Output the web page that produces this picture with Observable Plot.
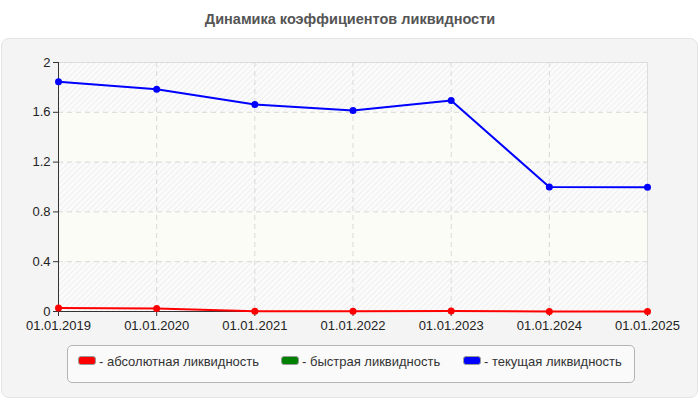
<!DOCTYPE html>
<html>
<head>
<meta charset="utf-8">
<script src="https://cdn.jsdelivr.net/npm/d3@7"></script>
<script src="https://cdn.jsdelivr.net/npm/@observablehq/plot@0.6"></script>
<style>
  html, body { margin: 0; padding: 0; width: 700px; height: 400px; overflow: hidden; background: #fff; font-family: "Liberation Sans", Arial, sans-serif; }
  #title { position: absolute; left: 0; top: 11px; width: 700px; text-align: center; font-size: 14.5px; font-weight: bold; color: #555; }
  #panel { position: absolute; left: 1px; top: 38px; width: 695px; height: 358px; background: #f4f4f4; border: 1px solid #e4e4e4; border-radius: 8px; }
  #chart { position: absolute; left: 0; top: 38px; }
  #legend { position: absolute; left: 67px; top: 345px; width: 566px; height: 36px; border: 1px solid #b4b4b4; border-radius: 5px; background: #fafafa; font-size: 13px; color: #333; }
  .item { position: absolute; top: 8px; white-space: nowrap; }
  .sw { display: inline-block; width: 16px; height: 7px; border-radius: 3px; border: 1px solid #999; margin-right: 3px; vertical-align: 1px; }
</style>
</head>
<body>
<div id="title">Динамика коэффициентов ликвидности</div>
<div id="panel"></div>
<div id="chart"></div>
<div id="legend"></div>
<script>
const years = [2019, 2020, 2021, 2022, 2023, 2024, 2025];
const absoluteLiq = [0.028, 0.025, 0.003, 0.002, 0.004, 0.001, 0.001];
const currentLiq = [1.845, 1.785, 1.662, 1.615, 1.695, 1.0, 0.998];
const yTicks = [0, 0.4, 0.8, 1.2, 1.6, 2];
const hatchBands = [[0, 0.4], [0.8, 1.2], [1.6, 2]];
const plainBands = [[0.4, 0.8], [1.2, 1.6]];
const seriesNames = ["- абсолютная ликвидность", "- быстрая ликвидность", "- текущая ликвидность"];
const seriesColors = ["#ff0000", "#008000", "#0000ff"];

const absData = years.map((y, i) => ({year: y, value: absoluteLiq[i]}));
const curData = years.map((y, i) => ({year: y, value: currentLiq[i]}));
const hatch = hatchBands.map(([a, b]) => ({y1: a, y2: b}));
const plain = plainBands.map(([a, b]) => ({y1: a, y2: b}));

const chart = Plot.plot({
  width: 700,
  height: 300,
  marginTop: 24,
  marginBottom: 27,
  marginLeft: 58,
  marginRight: 53,
  style: {fontFamily: "Liberation Sans, Arial, sans-serif", fontSize: "13px", color: "#222", background: "transparent", overflow: "visible"},
  x: {domain: [2019, 2025], label: null},
  y: {domain: [0, 2], label: null},
  marks: [
    Plot.rectY(hatch, {x1: 2019, x2: 2025, y1: "y1", y2: "y2", fill: "url(#hatchPat)"}),
    Plot.rectY(plain, {x1: 2019, x2: 2025, y1: "y1", y2: "y2", fill: "#fcfcf6"}),
    Plot.gridX(years.slice(1, -1), {stroke: "#d8d8d8", strokeOpacity: 1, strokeDasharray: "5,4"}),
    Plot.gridY(yTicks.slice(1, -1), {stroke: "#d8d8d8", strokeOpacity: 1, strokeDasharray: "5,4"}),
    Plot.ruleY([2], {stroke: "#dcdcdc"}),
    Plot.ruleX([2025], {stroke: "#dcdcdc"}),
    Plot.axisX({ticks: years, tickFormat: d => "01.01." + d, tickSize: 5, tickPadding: 4, stroke: "#333", fill: "#222", fontSize: 13}),
    Plot.axisY({ticks: yTicks, tickFormat: d => String(d), tickSize: 5, tickPadding: 3, stroke: "#333", fill: "#222", fontSize: 13}),
    Plot.ruleX([2019], {stroke: "#333"}),
    Plot.ruleY([0], {stroke: "#333"}),
    Plot.line(curData, {x: "year", y: "value", stroke: "#0000ff", strokeWidth: 2}),
    Plot.dot(curData, {x: "year", y: "value", fill: "#0000ff", r: 3.5}),
    Plot.line(absData, {x: "year", y: "value", stroke: "#ff0000", strokeWidth: 2}),
    Plot.dot(absData, {x: "year", y: "value", fill: "#ff0000", r: 3.5})
  ]
});

const svg = d3.select(chart);
const defs = svg.insert("defs", ":first-child");
const pat = defs.append("pattern").attr("id", "hatchPat").attr("patternUnits", "userSpaceOnUse")
  .attr("width", 4).attr("height", 4).attr("patternTransform", "rotate(45)");
pat.append("rect").attr("width", 4).attr("height", 4).attr("fill", "#fbfbfb");
pat.append("line").attr("x1", 0).attr("y1", 0).attr("x2", 0).attr("y2", 4).attr("stroke", "#e8e8e8").attr("stroke-width", 1.2);

document.getElementById("chart").appendChild(chart);

const legend = document.getElementById("legend");
const lefts = [10, 213, 395];
seriesNames.forEach((name, i) => {
  const it = document.createElement("div");
  it.className = "item";
  it.style.left = lefts[i] + "px";
  it.innerHTML = `<span class="sw" style="background:${seriesColors[i]}"></span>${name}`;
  legend.appendChild(it);
});
</script>
</body>
</html>
